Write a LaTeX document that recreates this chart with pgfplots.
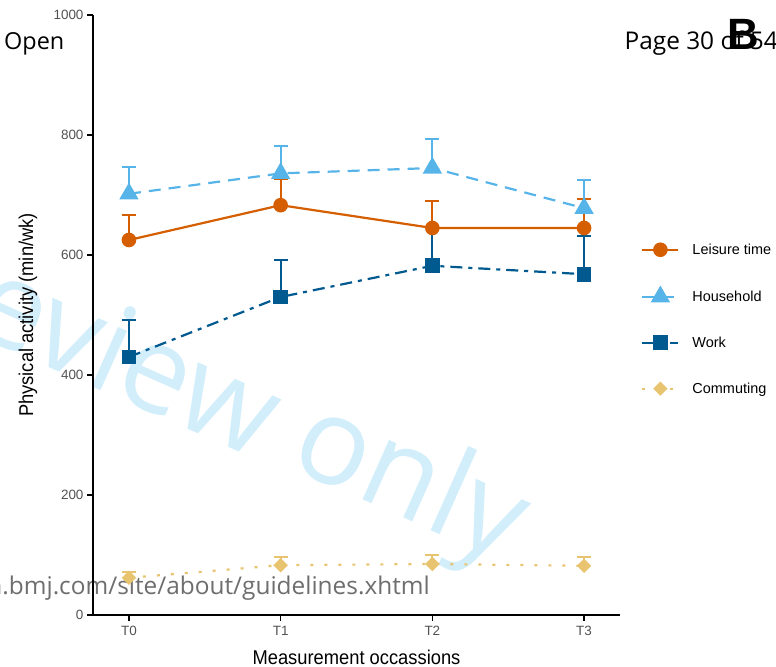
\documentclass[border=0pt]{standalone}
\usepackage{fontspec}
\setmainfont{Liberation Sans}
\newfontfamily\wmfont{Open Sans}
\newfontfamily\narrowfont[FakeStretch=0.92]{Liberation Sans}
\usepackage{pgfplots}
\pgfplotsset{compat=1.18}
\definecolor{leis}{HTML}{D55E00}
\definecolor{house}{HTML}{56B4E9}
\definecolor{work}{HTML}{005A8F}
\definecolor{comm}{HTML}{E9C470}
\definecolor{wm}{HTML}{D3EEFB}
\definecolor{wmgray}{HTML}{6E6E6E}
\begin{document}
\begin{tikzpicture}[x=1bp,y=1bp]
\useasboundingbox (0,0) rectangle (776,667);
\clip (0,0) rectangle (776,667);
% watermark texts (behind)
\node[wm, font=\wmfont\fontsize{122}{122}\selectfont, rotate=-24, anchor=base east, inner sep=0] at (257,207) {review};
\node[wm, font=\wmfont\fontsize{122}{122}\selectfont, rotate=-24, anchor=base west, inner sep=0] at (286,201) {only};
\node[wmgray, font=\wmfont\fontsize{24.5}{25}\selectfont, anchor=base east, inner sep=0] at (430,72) {bmjopen.bmj.com/site/about/guidelines.xhtml};
\node[black, font=\wmfont\fontsize{23.5}{24}\selectfont, anchor=base west, inner sep=0] at (4,617) {Open};
\node[black, font=\wmfont\fontsize{24.5}{25}\selectfont, anchor=base east, inner sep=0] at (778,617) {Page 30 of 54};
\begin{axis}[
  at={(93bp,52bp)}, anchor=south west,
  width=527bp, height=600bp, scale only axis,
  xmin=-0.237, xmax=3.237, ymin=0, ymax=1000,
  axis x line=bottom, axis y line=left,
  axis line style={-, line width=1.8bp, black},
  xtick={0,1,2,3}, xticklabels={T0,T1,T2,T3},
  ytick={0,200,400,600,800,1000},
  tick align=outside, major tick length=6bp,
  tick style={black, line width=1.5bp},
  /pgf/number format/assume math mode=true,
  /pgf/number format/1000 sep={},
  tick label style={text=black!68, font=\fontsize{13.5}{15}\selectfont},
  xticklabel style={yshift=-2bp},
  xlabel={Measurement occassions},
  ylabel={Physical activity (min/wk)},
  label style={font=\narrowfont\fontsize{20}{22}\selectfont},
  xlabel style={at={(axis description cs:0.5,0)}, anchor=center, yshift=-42bp},
  ylabel style={at={(axis description cs:-0.1233,0.5)}, anchor=center, rotate=0},
  clip=false,
  legend style={draw=none, fill=none, at={(1.04,0.493)}, anchor=west, inner sep=0pt,
    row sep=30bp, font=\fontsize{14.5}{16}\selectfont,
    /tikz/every odd column/.append style={column sep=11bp}},
  legend cell align=left,
  legend image code/.code={\draw[mark repeat=2, mark phase=2] plot coordinates {(0bp,0bp)(18bp,0bp)(36bp,0bp)};},
  every axis plot/.append style={line width=2.2bp},
  error bars/y dir=plus, error bars/y explicit,
  error bars/error bar style={solid, line width=2.2bp},
  error bars/error mark options={solid, line width=2.2bp, mark size=7bp, rotate=90},
]
\addplot[leis, solid, mark=*, mark size=6.2bp, mark options={solid}]
 table[x=x, y=y, y error plus=e] {
x y e
0 625 42
1 683 44
2 645 45
3 645 48
};
\addlegendentry{Leisure time}
\addplot[house, dash pattern=on 12bp off 8bp, mark=triangle*, mark size=9bp, mark options={solid}]
 table[x=x, y=y, y error plus=e] {
x y e
0 702 45
1 736 46
2 745 48
3 678 47
};
\addlegendentry{Household}
\addplot[work, dash pattern=on 12bp off 6bp on 4bp off 6bp, mark=square*, mark size=6.3bp, mark options={solid}]
 table[x=x, y=y, y error plus=e] {
x y e
0 430 61
1 530 62
2 582 63
3 568 64
};
\addlegendentry{Work}
\addplot[comm, dash pattern=on 3bp off 11bp, mark=square*, mark size=4bp, mark options={solid, rotate=45}]
 table[x=x, y=y, y error plus=e] {
x y e
0 62 10
1 83 14
2 85 15
3 82 15
};
\addlegendentry{Commuting}
\end{axis}
\node[black, font=\bfseries\fontsize{44}{44}\selectfont, anchor=base west, inner sep=0] at (727,617) {B};
\end{tikzpicture}
\end{document}
